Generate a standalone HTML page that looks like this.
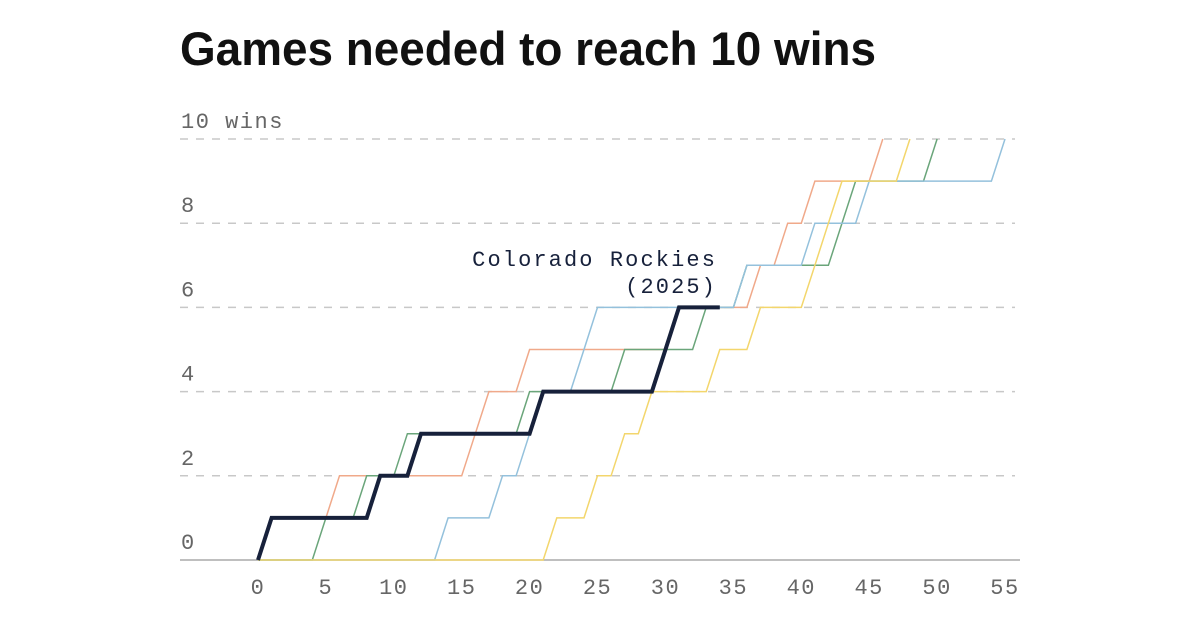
<!DOCTYPE html>
<html><head><meta charset="utf-8"><style>
html,body{margin:0;padding:0;background:#fff;}
svg{display:block;}
.tk{font-family:"Liberation Mono",monospace;font-size:22px;fill:#666;letter-spacing:1.5px;}
.ann{font-family:"Liberation Mono",monospace;font-size:22px;fill:#17213b;letter-spacing:2.1px;}
</style></head><body>
<svg id="chart" width="1200" height="630" viewBox="0 0 1200 630">
<text x="180" y="65" font-family="Liberation Sans, sans-serif" font-weight="bold" font-size="47" fill="#111" textLength="696" lengthAdjust="spacingAndGlyphs">Games needed to reach 10 wins</text>
<g id="grid"></g><g id="series"></g><g id="labels"></g>
</svg>
<script>
const xTicks = [0,5,10,15,20,25,30,35,40,45,50,55];
const yTicks = [0,2,4,6,8,10];
const yTickLabels = ["0","2","4","6","8","10 wins"];
const seriesNames = ["orange-team","green-team","blue-team","yellow-team","colorado-rockies-2025"];
const seriesColors = ["#f0a98a","#6aa57a","#94c1dc","#f3d66c","#17213b"];
const orangeWins = [1,6,16,17,20,31,37,39,41,46];
const greenWins = [5,8,11,20,27,33,36,43,44,50];
const blueWins = [14,18,20,21,24,25,36,41,45,55];
const yellowWins = [22,25,27,29,34,37,41,42,43,48];
const rockiesWins = [1,9,12,21,30,31];
const rockiesLastGame = 34;

const NS="http://www.w3.org/2000/svg";
const X = g => 258 + g*(1005-258)/55;
const Y = w => 560 - w*(560-139)/10;
const grid=document.getElementById('grid');
const labels=document.getElementById('labels');
const series=document.getElementById('series');
function mk(tag,attrs,parent){const e=document.createElementNS(NS,tag);for(const k in attrs)e.setAttribute(k,attrs[k]);parent.appendChild(e);return e;}

yTicks.forEach((t,i)=>{
  if(t>0){
    const l=mk('line',{x1:180,x2:1015,y1:Y(t),y2:Y(t),stroke:'#c8c8c8','stroke-width':1.5,'stroke-dasharray':'8 8'},grid);
    
    
  }
  const tx=mk('text',{x:181,y:Y(t)-11,class:'tk'},labels);
  tx.textContent=yTickLabels[i];
  
  
});
const ax=mk('line',{x1:180,x2:1020,y1:560,y2:560,stroke:'#aaa','stroke-width':1.5},grid);


xTicks.forEach(t=>{
  const tx=mk('text',{x:X(t),y:594,class:'tk','text-anchor':'middle'},labels);
  tx.textContent=String(t);
  
  
});

function stepPath(wins,last){
  let pts=[[0,0]];let w=0;
  wins.forEach(g=>{pts.push([g-1,w]);w++;pts.push([g,w]);});
  if(last!==undefined)pts.push([last,w]);
  return pts.map((p,i)=>(i?'L':'M')+X(p[0]).toFixed(1)+','+Y(p[1]).toFixed(1)).join(' ');
}
const allWins=[orangeWins,greenWins,blueWins,yellowWins,rockiesWins];
allWins.forEach((wins,i)=>{
  const isR=i===4;
  const p=mk('path',{d:stepPath(wins,isR?rockiesLastGame:undefined),fill:'none',stroke:seriesColors[i],'stroke-width':isR?4:1.5,'stroke-linejoin':'miter'},series);
  
  
});
const a1=mk('text',{x:717,y:266,'text-anchor':'end',class:'ann'},labels);
a1.textContent='Colorado Rockies';


const a2=mk('text',{x:717,y:293,'text-anchor':'end',class:'ann'},labels);
a2.textContent='(2025)';


</script>
</body></html>
